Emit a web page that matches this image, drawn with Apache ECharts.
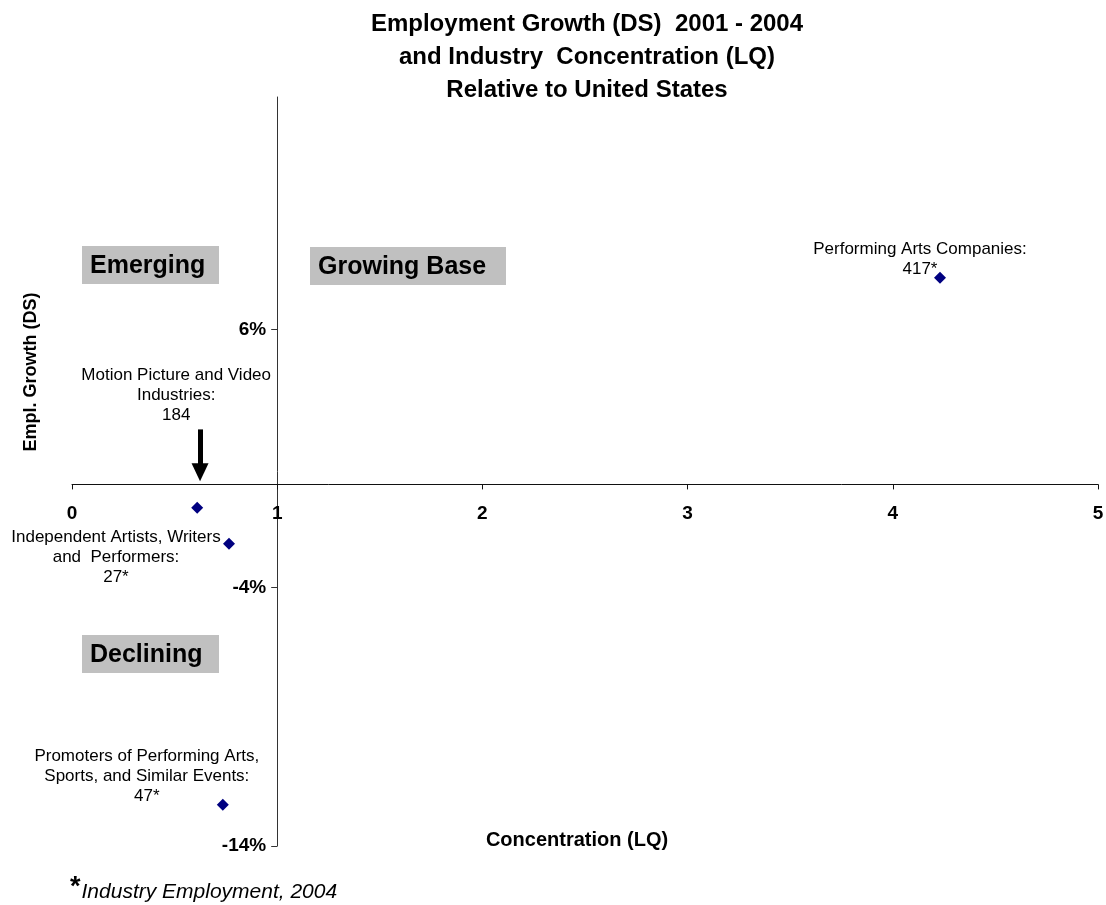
<!DOCTYPE html>
<html>
<head>
<meta charset="utf-8">
<script src="https://cdn.jsdelivr.net/npm/echarts@6/dist/echarts.min.js"></script>
<style>
  html, body { margin: 0; padding: 0; background: #fff; }
  #chart { width: 1106px; height: 905px; }
</style>
</head>
<body>
<div id="chart"></div>
<script>
// Industries plotted: location quotient (x) against employment growth in % (y)
const industries = [
  'Performing Arts Companies:',
  'Motion Picture and Video\nIndustries:',
  'Independent Artists, Writers\nand  Performers:',
  'Promoters of Performing Arts,\nSports, and Similar Events:'
];
const concentration = [4.23, 0.61, 0.765, 0.735];
const growth = [8.0, -0.9, -2.3, -12.4];
const employment = ['417*', '184', '27*', '47*'];

// Axis ticks
const xTicks = [0, 1, 2, 3, 4, 5];
const yTicks = [-14, -4, 6];
const yMax = 15;

// Quadrant names
const quadrants = ['Emerging', 'Growing Base', 'Declining'];

const FONT = '"Liberation Sans", Arial, Helvetica, sans-serif';

// Label placement for each point, relative to its marker
const labelOffsets = [[-20, -18], [-21, -112], [-113, 13], [-76, -28]];

const points = industries.map((name, i) => ({
  value: [concentration[i], growth[i]],
  label: { offset: labelOffsets[i] }
}));

const chart = echarts.init(document.getElementById('chart'));

const GRID = { left: 72, right: 8, top: 97, bottom: 59 };
const plotWidth = 1106 - GRID.left - GRID.right;
const plotHeight = 905 - GRID.top - GRID.bottom;
const xMin = xTicks[0], xMax = xTicks[xTicks.length - 1];
const yMin = yTicks[0];
// the axes cross at LQ = 1 and growth = 0
const xCross = 1, yCross = 0;
const yAxisShift = (xCross - xMin) / (xMax - xMin) * plotWidth;
const xAxisShift = (yCross - yMin) / (yMax - yMin) * plotHeight;

function quadrantBox(x, y, w, h, text) {
  return {
    type: 'group', left: x, top: y,
    children: [
      { type: 'rect', shape: { x: 0, y: 0, width: w, height: h }, style: { fill: '#c0c0c0' } },
      { type: 'text', x: 8, y: h / 2 + 1, style: {
          text: text, font: 'bold 25px ' + FONT, fill: '#000',
          verticalAlign: 'middle' } }
    ]
  };
}

chart.setOption({
  animation: false,
  backgroundColor: '#fff',
  title: {
    text: 'Employment Growth (DS)  2001 - 2004\nand Industry  Concentration (LQ)\nRelative to United States',
    left: 582, top: 3, textAlign: 'center',
    textStyle: { fontFamily: FONT, fontWeight: 'bold', fontSize: 24, lineHeight: 33, color: '#000' }
  },
  grid: Object.assign({ containLabel: false, outerBoundsMode: 'none' }, GRID),
  xAxis: {
    type: 'value', min: xMin, max: xMax, interval: 1, position: 'bottom',
    offset: -xAxisShift,
    axisLine: { show: true, onZero: false, lineStyle: { color: '#111', width: 1 } },
    axisTick: { show: true, length: 5, lineStyle: { color: '#111' } },
    splitLine: { show: false },
    axisLabel: { margin: 20, fontFamily: FONT, fontWeight: 'bold', fontSize: 19, color: '#000' }
  },
  yAxis: {
    type: 'value', min: yMin, max: yMax, interval: 10, position: 'left',
    offset: -yAxisShift,
    axisLine: { show: true, onZero: false, lineStyle: { color: '#333', width: 1 } },
    axisTick: { show: true, length: 6, customValues: yTicks, lineStyle: { color: '#333' } },
    splitLine: { show: false },
    axisLabel: {
      customValues: yTicks, margin: 11, formatter: '{value}%',
      fontFamily: FONT, fontWeight: 'bold', fontSize: 19, color: '#000'
    }
  },
  series: [{
    type: 'scatter',
    symbol: 'diamond', symbolSize: 12,
    itemStyle: { color: '#000080', opacity: 1 },
    data: points,
    label: {
      show: true, position: 'inside', align: 'center', verticalAlign: 'middle',
      fontFamily: FONT, fontSize: 17, lineHeight: 20, color: '#000',
      textBorderWidth: 0,
      formatter: p => industries[p.dataIndex] + '\n' + employment[p.dataIndex]
    },
    emphasis: { disabled: true },
    markLine: {
      silent: true, animation: false,
      symbol: ['none', 'triangle'], symbolSize: [17, 18],
      lineStyle: { type: 'solid', color: '#000', width: 5 },
      label: { show: false },
      emphasis: { disabled: true },
      data: [[{ coord: [0.624, 2.13] }, { coord: [0.624, 0.47] }]]
    }
  }],
  graphic: [
    quadrantBox(82, 246, 137, 38, quadrants[0]),
    quadrantBox(310, 247, 196, 38, quadrants[1]),
    quadrantBox(82, 635, 137, 38, quadrants[2]),
    {
      type: 'text', x: 31, y: 372, rotation: Math.PI / 2,
      style: { text: 'Empl. Growth (DS)', font: 'bold 18px ' + FONT, fill: '#000',
               align: 'center', verticalAlign: 'middle' }
    },
    {
      type: 'text', x: 577, y: 840,
      style: { text: 'Concentration (LQ)', font: 'bold 20px ' + FONT, fill: '#000',
               align: 'center', verticalAlign: 'middle' }
    },
    {
      type: 'text', x: 70, y: 892,
      style: {
        text: '{a|*}{b|Industry Employment, 2004}',
        verticalAlign: 'middle',
        rich: {
          a: { font: 'bold 27px ' + FONT, fill: '#000', padding: [0, 1, 8, 0] },
          b: { font: 'italic 21px ' + FONT, fill: '#000' }
        }
      }
    }
  ]
});
</script>
</body>
</html>
